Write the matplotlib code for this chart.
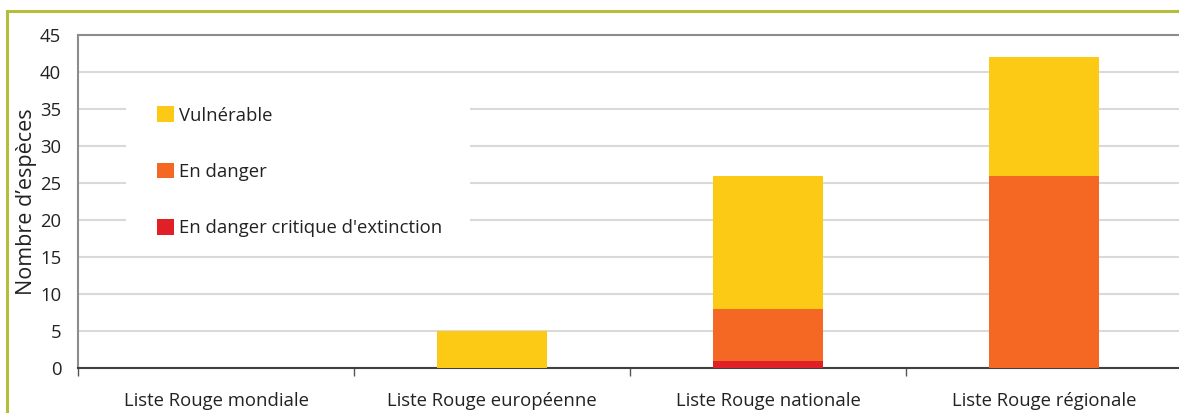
import numpy as np
import matplotlib
matplotlib.use('Agg')
from matplotlib import pyplot as plt
from matplotlib.patches import Rectangle, Patch

plt.rcParams['font.family'] = ['Open Sans', 'DejaVu Sans']

categories = ['Liste Rouge mondiale', 'Liste Rouge européenne',
              'Liste Rouge nationale', 'Liste Rouge régionale']
critique = [0, 0, 1, 0]
danger = [0, 0, 7, 26]
vulnerable = [0, 5, 18, 16]

series_names = ['Vulnérable', 'En danger', "En danger critique d'extinction"]
colors = ['#FCC914', '#F46823', '#E02026']
yticks = [0, 5, 10, 15, 20, 25, 30, 35, 40, 45]

fig = plt.figure(figsize=(11.79, 4.13), dpi=100)

# olive frame around the whole figure
fig.patches.append(Rectangle((6.5 / 1179, -0.1), 1.2, 1 - 11.5 / 413 + 0.1,
                             transform=fig.transFigure, fill=False,
                             edgecolor='#B5BD3A', linewidth=2.2))

ax = fig.add_axes([78 / 1179, 1 - 368 / 413, 1104 / 1179, 333 / 413])

x = np.arange(len(categories))
w = 0.40
ax.bar(x, critique, w, color=colors[2], zorder=3)
ax.bar(x, danger, w, bottom=critique, color=colors[1], zorder=3)
ax.bar(x, vulnerable, w, bottom=np.array(critique) + np.array(danger),
       color=colors[0], zorder=3)

ax.set_xlim(-0.5, 3.5)
ax.set_ylim(0, 45)
ax.set_yticks(yticks)
ax.yaxis.grid(True, color='#D9D9D9', linewidth=1.5, zorder=0)
ax.set_axisbelow(True)

ax.set_xticks(x)
ax.set_xticklabels(categories, fontsize=13.3, color='#222222')
ax.tick_params(axis='x', which='major', length=0, pad=17)
ax.set_xticks([-0.5, 0.5, 1.5, 2.5], minor=True)
ax.tick_params(axis='x', which='minor', length=6, width=1, color='#555555')
ax.tick_params(axis='y', length=0, pad=12, labelsize=13.3, labelcolor='#222222')

ax.spines['right'].set_visible(False)
ax.spines['top'].set_color('#8C8C8C')
ax.spines['top'].set_linewidth(1.5)
ax.spines['left'].set_color('#8C8C8C')
ax.spines['left'].set_linewidth(1.5)
ax.spines['bottom'].set_color('#404040')
ax.spines['bottom'].set_linewidth(1.5)

ax.set_ylabel("Nombre d’espèces", fontsize=15.5, color='#222222', labelpad=2)

# white box of the legend, hiding the gridlines behind it
ax.add_patch(Rectangle((126 / 1179, 1 - 245 / 413), 344 / 1179, 160 / 413,
                       transform=fig.transFigure, facecolor='white',
                       edgecolor='none', zorder=1))

handles = [Patch(facecolor=c, edgecolor='none') for c in colors]
leg = ax.legend(handles, series_names, loc='upper left',
                bbox_to_anchor=(137 / 1179, 1 - 86 / 413),
                bbox_transform=fig.transFigure,
                frameon=False,
                fontsize=13.3, labelspacing=2.05, handlelength=0.9,
                handleheight=0.95, handletextpad=0.3, borderpad=0.6)
for t in leg.get_texts():
    t.set_color('#222222')
leg.set_zorder(5)

fig.savefig('out.png', dpi=100)
